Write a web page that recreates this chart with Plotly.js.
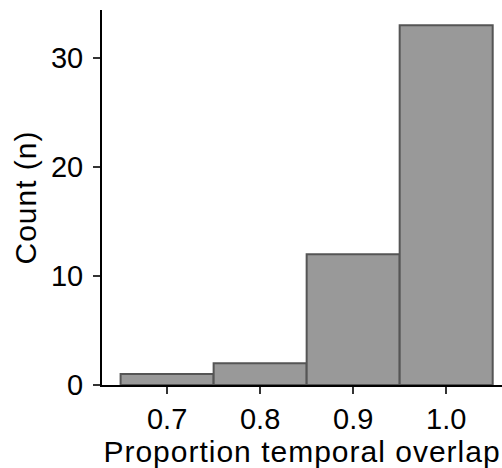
<!DOCTYPE html>
<html>
<head>
<script src="https://cdn.plot.ly/plotly-3.0.1.min.js"></script>
<style>
html,body{margin:0;padding:0;background:#fff;}
#chart{width:502px;height:468px;}
.xtitle,.ytitle{letter-spacing:1px;}
</style>
</head>
<body>
<div id="chart"></div>
<script>
const binCenters = [0.7, 0.8, 0.9, 1.0];
const counts = [1, 2, 12, 33];
const binWidth = 0.1;
const xTicks = [0.7, 0.8, 0.9, 1.0];
const xTickLabels = ["0.7", "0.8", "0.9", "1.0"];
const yTicks = [0, 10, 20, 30];

const trace = {
  type: 'bar',
  x: binCenters,
  y: counts,
  width: binCenters.map(() => binWidth),
  marker: {color: '#999999', line: {color: '#555555', width: 2}},
  hoverinfo: 'skip'
};

const fam = 'Liberation Sans, Arial, Helvetica, sans-serif';
const tickFont = {family: fam, size: 29, color: '#000'};
const titleFont = {family: fam, size: 30, color: '#000'};

const layout = {
  width: 502, height: 468,
  margin: {l: 102, r: 0, t: 10, b: 83, pad: 0},
  paper_bgcolor: '#fff', plot_bgcolor: '#fff',
  showlegend: false,
  bargap: 0,
  font: tickFont,
  xaxis: {
    range: [0.630, 1.060],
    tickvals: xTicks, ticktext: xTickLabels,
    showgrid: false, zeroline: false,
    showline: true, linecolor: '#000', linewidth: 2,
    ticks: 'outside', ticklen: 7, tickwidth: 2, tickcolor: '#333',
    tickfont: tickFont,
    title: {text: 'Proportion temporal overlap', font: titleFont, standoff: 4}
  },
  yaxis: {
    range: [0, 34.4],
    tickvals: yTicks,
    showgrid: false, zeroline: false,
    showline: true, linecolor: '#000', linewidth: 2,
    ticks: 'outside', ticklen: 7, tickwidth: 2, tickcolor: '#333',
    ticklabelstandoff: 4,
    tickfont: tickFont,
    title: {text: 'Count (n)', font: titleFont, standoff: 5}
  }
};

Plotly.newPlot('chart', [trace], layout, {displayModeBar: false, staticPlot: true});
</script>
</body>
</html>
